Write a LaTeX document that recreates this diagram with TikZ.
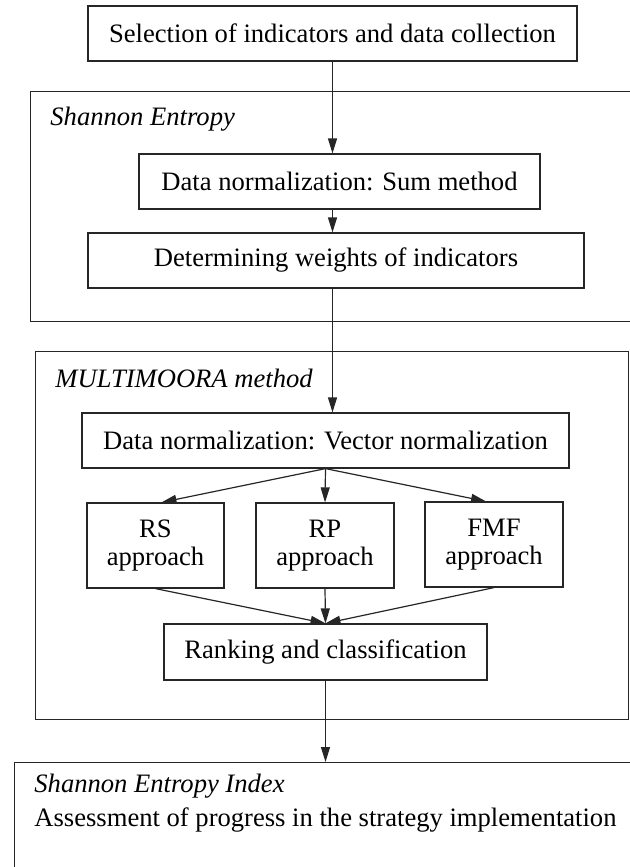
\documentclass[tikz,border=0pt]{standalone}
\usepackage{fontspec}
\setmainfont{Liberation Serif}
\usetikzlibrary{arrows.meta,positioning}
\definecolor{flowline}{RGB}{38,38,38}

\begin{document}
\begin{tikzpicture}[x=0.5pt, y=-0.5pt, every node/.style={font=\fontsize{13.3}{14}\selectfont}]
    \useasboundingbox (0,0) rectangle (630,867);

    % stage frames
    \node[draw=flowline, line width=0.6pt, anchor=north west, inner sep=0pt, minimum width=310pt, minimum height=115pt] (entropy) at (30,91) {};
    \node[draw=flowline, line width=0.6pt, anchor=north west, inner sep=0pt, minimum width=296.5pt, minimum height=184pt] (moora) at (35,351) {};
    \node[draw=flowline, line width=0.6pt, anchor=north west, inner sep=0pt, minimum width=318pt, minimum height=70pt] (index) at (14,762) {};

    \node[anchor=base west, inner sep=0pt] (entropytitle) at (50,125) {\textit{Shannon Entropy}};
    \node[anchor=base west, inner sep=0pt] (mooratitle) at (55,387) {\textit{MULTIMOORA method}};
    \node[anchor=base west, inner sep=0pt] (indextitle) at (34,792) {\textit{Shannon Entropy Index}};
    \node[anchor=base west, inner sep=0pt] (indextext) at (34,826) {Assessment of progress in the strategy implementation};

    % steps
    \node[draw=flowline, line width=0.6pt, inner sep=0pt, minimum width=244.5pt, minimum height=27.5pt] (select) at (332.5,33.5) {Selection of indicators and data collection};
    \node[draw=flowline, line width=0.6pt, inner sep=0pt, minimum width=200.5pt, minimum height=27.5pt] (sumnorm) at (339.5,181.5) {Data normalization: Sum method};
    \node[draw=flowline, line width=0.6pt, inner sep=0pt, minimum width=248pt, minimum height=27.5pt] (weights) at (336,260.5) {Determining weights of indicators};
    \node[draw=flowline, line width=0.6pt, inner sep=0pt, minimum width=243.5pt, minimum height=27.5pt] (vecnorm) at (325.5,440.5) {Data normalization: Vector normalization};
    \node[draw=flowline, line width=0.6pt, inner sep=0pt, minimum width=68.5pt, minimum height=42.5pt, align=center] (rs) at (155.5,545.5) {RS\\approach};
    \node[draw=flowline, line width=0.6pt, inner sep=0pt, minimum width=69pt, minimum height=42.5pt, align=center] (rp) at (325,545.5) {RP\\approach};
    \node[draw=flowline, line width=0.6pt, inner sep=0pt, minimum width=69pt, minimum height=42.5pt, align=center] (fmf) at (494,544.5) {FMF\\approach};
    \node[draw=flowline, line width=0.6pt, inner sep=0pt, minimum width=161.5pt, minimum height=28pt] (rank) at (325.5,652) {Ranking and classification};

    \draw[-{Triangle[length=7.5pt,width=4.5pt]}, line width=0.6pt, color=flowline] (select.south) -- (select.south |- sumnorm.north);
    \draw[-{Triangle[length=7.5pt,width=4.5pt]}, line width=0.6pt, color=flowline] (sumnorm.south -| select.south) -- (select.south |- weights.north);
    \draw[-{Triangle[length=7.5pt,width=4.5pt]}, line width=0.6pt, color=flowline] (weights.south -| select.south) -- (select.south |- vecnorm.north);
    \draw[-{Triangle[length=7.5pt,width=4.5pt]}, line width=0.6pt, color=flowline] (vecnorm.south) -- ([xshift=3pt]rs.north);
    \draw[-{Triangle[length=7.5pt,width=4.5pt]}, line width=0.6pt, color=flowline] (vecnorm.south) -- (rp.north);
    \draw[-{Triangle[length=7.5pt,width=4.5pt]}, line width=0.6pt, color=flowline] (vecnorm.south) -- ([xshift=-4pt]fmf.north);
    \draw[-{Triangle[length=7.5pt,width=4.5pt]}, line width=0.6pt, color=flowline] (rs.south) -- (rank.north);
    \draw[-{Triangle[length=7.5pt,width=4.5pt]}, line width=0.6pt, color=flowline] (rp.south) -- (rank.north);
    \draw[-{Triangle[length=7.5pt,width=4.5pt]}, line width=0.6pt, color=flowline] (fmf.south) -- (rank.north);
    \draw[-{Triangle[length=7.5pt,width=4.5pt]}, line width=0.6pt, color=flowline] (rank.south) -- (rank.south |- index.north);
\end{tikzpicture}
\end{document}
